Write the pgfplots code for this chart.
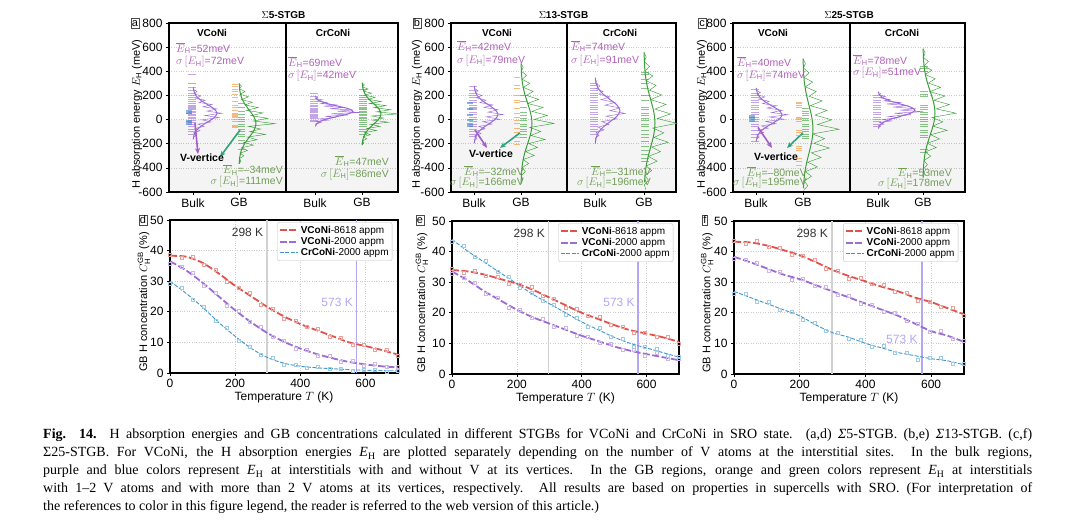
\documentclass[border=0pt]{standalone}
\usepackage{pgfplots}
\pgfplotsset{compat=1.18}
\usepackage{pgfplotstable}
\usepackage{fontspec}
\setmainfont{Liberation Sans}
\newfontfamily\capfont{Liberation Serif}
\usetikzlibrary{arrows.meta}

\definecolor{cpurple}{HTML}{9B6AD6}
\definecolor{cblue}{HTML}{3D85C6}
\definecolor{corange}{HTML}{F28C28}
\definecolor{cgreen}{HTML}{3A9E3A}
\definecolor{annpurple}{HTML}{B062B8}
\definecolor{anngreen}{HTML}{6F9E55}
\definecolor{arrpurple}{HTML}{A35CC9}
\definecolor{arrgreen}{HTML}{2FA37A}
\definecolor{lred}{HTML}{E0524D}
\definecolor{lpurple}{HTML}{9D6BD4}
\definecolor{lblue}{HTML}{3D96CC}
\definecolor{c573}{HTML}{B3A6F2}

\pgfplotsset{/pgf/number format/assume math mode=true}

% Gaussian shape (k = offset in sigma, f = relative height)
\pgfplotstableread{
k f
-3 0.011
-2.5 0.044
-2 0.135
-1.5 0.325
-1 0.607
-0.5 0.882
0 1
0.5 0.882
1 0.607
1.5 0.325
2 0.135
2.5 0.044
3 0.011
}\gauss
\pgfplotstableread{
k g
-2.75 0.02
-2.5 0.15
-2.25 0.03
-2.0 0.35
-1.75 0.1
-1.5 0.55
-1.25 0.25
-1.0 0.9
-0.75 0.45
-0.5 1.3
-0.25 0.6
0 1.45
0.25 0.7
0.5 1.2
0.75 0.5
1.0 0.95
1.25 0.3
1.5 0.6
1.75 0.12
2.0 0.4
2.25 0.05
2.5 0.2
2.75 0.01
}\jagA
\pgfplotstableread{
k g
-2.75 0.05
-2.5 0.02
-2.25 0.2
-2.0 0.05
-1.75 0.45
-1.5 0.15
-1.25 0.7
-1.0 0.35
-0.75 1.1
-0.5 0.55
-0.25 1.5
0 0.75
0.25 1.25
0.5 0.5
0.75 1.0
1.0 0.3
1.25 0.75
1.5 0.2
1.75 0.4
2.0 0.06
2.25 0.25
2.5 0.02
2.75 0.1
}\jagB
\pgfplotstableread{
k g
-3.0 0.0
-2.8 0.08
-2.6 0.02
-2.4 0.2
-2.2 0.05
-2.0 0.35
-1.8 0.1
-1.6 0.6
-1.4 0.2
-1.2 0.75
-1.0 0.35
-0.8 1.1
-0.6 0.45
-0.4 0.9
-0.2 0.4
0.0 1.5
0.2 0.6
0.4 1.2
0.6 0.5
0.8 1.0
1.0 0.3
1.2 0.8
1.4 0.25
1.6 0.55
1.8 0.1
2.0 0.4
2.2 0.05
2.4 0.25
2.6 0.02
2.8 0.1
3.0 0.0
}\jagC

% temperature curves: T, VCoNi-8618 (r), VCoNi-2000 (p), CrCoNi-2000 (b)
\pgfplotstableread{
T r p b
0 38.3 36.5 30
50 38 33.5 26
100 36 29.5 21.5
150 32.5 25 16.5
200 28.5 20.5 12
250 25 16.5 8
300 21.5 13 5
350 18.5 10.2 3.2
400 16 8 2.2
450 14 6.2 1.7
500 12 4.8 1.4
550 10 3.6 1.1
600 8.8 2.8 0.9
650 7.5 2.2 0.8
700 6 1.8 0.7
}\curvD
\pgfplotstableread{
T r p b
0 38.8 35.7 29.1
35 37.5 34.6 27.8
70 38.1 32.7 24.0
105 35.3 28.5 21.8
140 33.6 26.2 17.1
175 29.7 21.9 14.8
210 28.0 20.3 10.5
245 26.1 16.7 8.7
280 22.4 15.2 5.9
315 20.9 11.8 5.1
350 17.6 10.7 2.8
385 17.2 8.0 2.8
420 15.0 7.6 1.7
455 14.6 5.8 2.2
490 12.0 5.7 1.3
525 11.5 3.7 1.5
560 9.1 4.0 0.7
595 9.2 2.4 1.0
630 7.7 3.0 1.2
665 7.7 1.9 0.5
700 5.5 2.1 0.85
}\scatD
\pgfplotstableread{
T r p b
0 34 33.5 44
50 33.5 30.5 40
100 32.5 27 36.5
150 31 24 33
200 29.5 21 29.5
250 27.5 18.5 26
300 25 16.5 23
350 22.5 14.5 20
400 20 12.5 17
450 18 10.8 14.5
500 16 9 12
550 14.3 7.6 10
600 13.2 6.5 8.5
650 12 5.5 7
700 10.5 4.5 5.5
}\curvE
\pgfplotstableread{
T r p b
0 34.5 32.7 43.1
35 33.0 31.6 41.8
70 33.9 29.8 38.4
105 32.1 26.2 37.0
140 31.7 24.9 33.4
175 29.5 21.6 31.8
210 29.3 21.1 28.1
245 28.4 18.5 26.6
280 25.5 18.1 23.8
315 24.6 15.5 22.6
350 21.6 15.0 19.5
385 21.4 12.4 18.4
420 19.0 12.1 15.4
455 18.6 10.3 15.2
490 16.0 10.0 12.2
525 15.6 7.8 11.4
560 13.4 7.9 8.8
595 13.6 6.0 8.9
630 12.2 6.8 8.3
665 12.2 4.9 6.0
700 10.0 4.9 5.8
}\scatE
\pgfplotstableread{
T r p b
0 43.2 38.3 27
50 43 36.5 25
100 42 34.5 23
150 40.5 32.5 21
200 38.8 31 19
250 36.5 29 16
300 34 27 13.5
350 32 25 12
400 30.3 23 10
450 28.5 21 8.5
500 27 19 7
550 25 16.5 6
600 23.5 14 5
650 21.5 12.5 4.3
700 19.5 10.5 3
}\curvF
\pgfplotstableread{
T r p b
0 43.7 37.5 26.1
35 42.5 37.2 26.2
70 43.5 36.4 23.6
105 41.6 33.8 23.6
140 41.3 33.4 21.0
175 38.9 30.9 20.5
210 38.5 31.2 17.7
245 37.4 29.0 16.6
280 34.5 28.6 14.2
315 33.7 26.0 13.6
350 31.1 25.5 11.5
385 31.4 22.9 11.1
420 29.4 22.5 8.8
455 29.2 20.5 9.3
490 26.9 20.0 7.0
525 26.5 17.3 6.9
560 24.0 16.5 4.8
595 23.5 13.7 5.2
630 22.0 14.0 5.4
665 21.5 11.6 3.4
700 19.0 10.9 3.3
}\scatF

\newcommand{\gline}[5]{\addplot[color=#5, line width=1pt, smooth, restrict y to domain=-600:800, forget plot] table[x expr={#1+#2*\thisrow{f}}, y expr={#3+#4*\thisrow{k}}]{\gauss};}
\newcommand{\jline}[6]{\addplot[color=#5, line width=0.45pt, restrict y to domain=-600:800, forget plot] table[x expr={#1+#2*\thisrow{g}}, y expr={#3+#4*\thisrow{k}}]{#6};}
\newcommand{\dashes}[4]{\addplot[only marks, mark=-, mark size=#2, color=#3, mark options={line width=1pt, opacity=0.6}, forget plot] table[header=false, row sep=\\, x expr={#1}, y index=0]{#4};}
\newcommand{\ann}[4]{\node[anchor=#1, text=#2, font=\fontsize{10.5}{12}\selectfont, inner sep=0pt] at (axis cs:#3) {#4};}
\newcommand{\EH}{$\overline{E}_{\mathrm{H}}$}
\newcommand{\sEH}{$\sigma\,[E_{\mathrm{H}}]$}

\newcommand{\botplots}[2]{%
 \addplot[only marks, mark=square, mark size=1.5pt, mark options={line width=0.5pt}, color=lred!55, forget plot] table[x=T,y=r]{#2};
 \addplot[only marks, mark=square, mark size=1.5pt, mark options={line width=0.5pt}, color=lpurple!50, forget plot] table[x=T,y=p]{#2};
 \addplot[only marks, mark=square, mark size=1.5pt, mark options={line width=0.5pt}, color=lblue!50, forget plot] table[x=T,y=b]{#2};
 \draw[gray!35, line width=1.6pt] (axis cs:298,0) -- (axis cs:298,50);
 \draw[c573, line width=1.6pt] (axis cs:573,0) -- (axis cs:573,50);
 \addplot[lred, line width=1.8pt, dash pattern=on 7pt off 2.5pt, smooth] table[x=T,y=r]{#1};
 \addlegendentry{\textbf{VCoNi}-8618 appm}
 \addplot[lpurple, line width=1.8pt, dash pattern=on 7pt off 2.5pt, smooth] table[x=T,y=p]{#1};
 \addlegendentry{\textbf{VCoNi}-2000 appm}
 \addplot[lblue, line width=0.9pt, dash pattern=on 4pt off 1.5pt, smooth] table[x=T,y=b]{#1};
 \addlegendentry{\textbf{CrCoNi}-2000 appm}
 \node[font=\fontsize{12}{12}\selectfont, text=black!80] at (axis cs:238,46) {298 K};
}

\pgfplotsset{
 common/.style={
  scale only axis, clip=false,
  axis line style={line width=1.1pt},
  tick align=outside, tick pos=left, major tick length=3pt,
  every tick/.style={black, line width=0.6pt},
  grid style={dotted, gray!40, line width=0.6pt},
  ticklabel style={font=\fontsize{12}{12}\selectfont},
  label style={font=\fontsize{12}{12}\selectfont},
  ylabel style={font=\fontsize{11}{11}\selectfont},
 },
 topax/.style={common,
  height=169pt, xmin=0, ymin=-600, ymax=800,
  ytick={-600,-400,...,800}, ymajorgrids,
  ylabel={H absorption energy $E_{\mathrm{H}}$ (meV)},
  title style={font=\fontsize{10}{10}\selectfont, yshift=-5pt},
 },
 botax/.style={common,
  height=153pt, xmin=0, xmax=700, ymin=0, ymax=50,
  xtick={0,200,400,600}, ytick={0,10,...,50}, grid=major,
  xlabel={Temperature $T$ (K)},
  xlabel style={yshift=3pt},
  ylabel={GB H concentration $C_{\mathrm{H}}^{\mathrm{GB}}$ (\%)},
  legend cell align=left,
  legend style={at={(rel axis cs:0.975,0.985)}, anchor=north east, draw=gray!50, rounded corners=2pt,
    font=\fontsize{10}{10}\selectfont, inner sep=1.5pt, row sep=-1.5pt},
  legend image code/.code={\draw[#1] (0pt,0pt) -- (18pt,0pt);},
 },
}

\begin{document}
\begin{tikzpicture}[x=1pt,y=1pt]
\path[use as bounding box] (0,0) rectangle (1080,528);

% ---------------- panel a ----------------
\begin{axis}[topax, at={(169pt,336pt)}, anchor=south west, width=229pt, xmax=229,
  ylabel style={at={(axis description cs:-0.14,0.46)}, anchor=center},
  xtick={24,70,146,193}, xticklabels={Bulk,GB,Bulk,GB}, title={$\Sigma$\textbf{5-STGB}}]
\fill[black, opacity=0.045] (axis cs:0,-600) rectangle (axis cs:229,0);
\draw[line width=1.1pt] (axis cs:117,-600) -- (axis cs:117,800);
\dashes{23}{3.8}{cpurple}{375\\300\\265\\240\\215\\200\\180\\165\\150\\135\\120\\110\\100\\90\\80\\70\\60\\45\\30\\20\\5\\-10\\-25\\-40\\-60\\-80\\-100\\-120\\}
\dashes{20}{3}{cblue}{75\\68\\61\\54\\47\\-5\\-12\\-19\\-26\\-33\\-40\\}
\jline{24}{20}{52}{72}{cpurple}{\jagA}
\gline{24}{24}{52}{72}{cpurple}
\dashes{66}{3}{corange}{290\\270\\250\\230\\210\\180\\150\\120\\100\\75\\50\\42\\35\\28\\20\\0\\-20\\-50\\-57\\-64\\}
\dashes{72}{3.5}{cgreen}{130\\100\\70\\40\\20\\0\\-20\\-40\\-60\\-80\\-100\\-120\\-140\\-170\\-200\\-250\\}
\jline{70}{24}{-34}{111}{cgreen}{\jagC}
\gline{70}{17}{-34}{111}{cgreen}
\dashes{145}{3.8}{cpurple}{215\\190\\170\\150\\135\\120\\105\\95\\85\\75\\65\\55\\45\\35\\25\\15\\5\\-10\\-20\\}
\jline{146}{30}{69}{42}{cpurple}{\jagB}
\gline{146}{38}{69}{42}{cpurple}
\dashes{194}{3.8}{cgreen}{250\\200\\185\\165\\150\\130\\115\\100\\90\\80\\65\\55\\45\\30\\20\\5\\-10\\-25\\-40\\-60\\-80\\-100\\-120\\}
\jline{193}{24}{47}{86}{cgreen}{\jagC}
\gline{193}{19}{47}{86}{cgreen}
\draw[-{Stealth[length=6pt,width=5pt]}, arrpurple, line width=1.6pt] (axis cs:26,-30) -- (axis cs:29,-286);
\draw[-{Stealth[length=6pt,width=5pt]}, arrgreen, line width=1.6pt] (axis cs:71,-87) -- (axis cs:51,-310);
\node[font=\bfseries\fontsize{10.5}{12}\selectfont] at (axis cs:33,-319) {V-vertice};
\node[font=\bfseries\fontsize{10}{12}\selectfont] at (axis cs:43,715) {VCoNi};
\node[font=\bfseries\fontsize{10}{12}\selectfont] at (axis cs:164,715) {CrCoNi};
\ann{west}{annpurple}{7,590}{\EH=52meV}
\ann{west}{annpurple}{7,475}{\sEH=72meV}
\ann{east}{anngreen}{114,-418}{\EH=–34meV}
\ann{east}{anngreen}{114,-518}{\sEH=111meV}
\ann{west}{annpurple}{119,475}{\EH=69meV}
\ann{west}{annpurple}{119,360}{\sEH=42meV}
\ann{east}{anngreen}{220,-345}{\EH=47meV}
\ann{east}{anngreen}{220,-455}{\sEH=86meV}
\end{axis}

% ---------------- panel b ----------------
\begin{axis}[topax, at={(451pt,336pt)}, anchor=south west, width=225pt, xmax=225,
  ylabel style={at={(axis description cs:-0.151,0.46)}, anchor=center},
  xtick={23,70,144,193}, xticklabels={Bulk,GB,Bulk,GB}, title={$\Sigma$\textbf{13-STGB}}]
\fill[black, opacity=0.045] (axis cs:0,-600) rectangle (axis cs:225,0);
\draw[line width=1.1pt] (axis cs:116,-600) -- (axis cs:116,800);
\dashes{22}{3.8}{cpurple}{270\\240\\220\\200\\180\\160\\140\\120\\100\\90\\80\\60\\40\\20\\0\\-20\\-40\\-60\\-80\\-100\\-120\\-140\\}
\dashes{19}{3}{cblue}{140\\135\\90\\85\\40\\35\\0\\-5\\-30\\-40\\-50\\-57\\}
\jline{23}{20}{42}{79}{cpurple}{\jagA}
\gline{23}{24}{42}{79}{cpurple}
\dashes{66}{3}{corange}{350\\280\\260\\200\\160\\140\\90\\50\\20\\-10\\-30\\-70\\-110\\-150\\-180\\-210\\}
\dashes{72}{3.5}{cgreen}{200\\150\\100\\60\\30\\10\\-10\\-40\\-60\\-80\\-100\\-120\\-150\\}
\jline{70}{22}{-32}{166}{cgreen}{\jagC}
\gline{70}{11}{-32}{166}{cgreen}
\dashes{143}{3.8}{cpurple}{300\\280\\260\\240\\220\\200\\180\\160\\140\\120\\100\\80\\60\\40\\20\\0\\-20\\-40\\-60\\-80\\-100\\-120\\}
\jline{144}{20}{74}{91}{cpurple}{\jagB}
\gline{144}{25}{74}{91}{cpurple}
\dashes{194}{3.8}{cgreen}{390\\370\\330\\300\\260\\200\\160\\100\\80\\50\\30\\10\\-10\\-40\\-60\\-90\\-120\\-150\\-180\\-220\\-260\\-290\\-320\\-350\\}
\jline{193}{22}{-31}{196}{cgreen}{\jagC}
\gline{193}{11}{-31}{196}{cgreen}
\draw[-{Stealth[length=6pt,width=5pt]}, arrpurple, line width=1.6pt] (axis cs:24,-87) -- (axis cs:36,-235);
\draw[-{Stealth[length=6pt,width=5pt]}, arrgreen, line width=1.6pt] (axis cs:69,-110) -- (axis cs:49,-235);
\node[font=\bfseries\fontsize{10.5}{12}\selectfont] at (axis cs:40,-287) {V-vertice};
\node[font=\bfseries\fontsize{10}{12}\selectfont] at (axis cs:46,715) {VCoNi};
\node[font=\bfseries\fontsize{10}{12}\selectfont] at (axis cs:169,715) {CrCoNi};
\ann{west}{annpurple}{6,607}{\EH=42meV}
\ann{west}{annpurple}{6,491}{\sEH=79meV}
\ann{east}{anngreen}{73,-427}{\EH=–32meV}
\ann{east}{anngreen}{73,-527}{\sEH=166meV}
\ann{west}{annpurple}{120,607}{\EH=74meV}
\ann{west}{annpurple}{120,491}{\sEH=91meV}
\ann{east}{anngreen}{200,-427}{\EH=–31meV}
\ann{east}{anngreen}{200,-527}{\sEH=196meV}
\end{axis}

% ---------------- panel c ----------------
\begin{axis}[topax, at={(733pt,336pt)}, anchor=south west, width=232pt, xmax=232,
  ylabel style={at={(axis description cs:-0.134,0.46)}, anchor=center},
  xtick={23,70,145,190}, xticklabels={Bulk,GB,Bulk,GB}, title={$\Sigma$\textbf{25-STGB}}]
\fill[black, opacity=0.045] (axis cs:0,-600) rectangle (axis cs:232,0);
\draw[line width=1.1pt] (axis cs:117,-600) -- (axis cs:117,800);
\dashes{22}{3.8}{cpurple}{250\\220\\200\\180\\160\\140\\120\\100\\80\\60\\40\\20\\0\\-20\\-40\\-60\\-90\\-120\\-150\\-180\\}
\dashes{19}{3}{cblue}{35\\28\\21\\14\\7\\0\\-7\\-14\\}
\jline{23}{22}{40}{74}{cpurple}{\jagA}
\gline{23}{26}{40}{74}{cpurple}
\dashes{66}{3}{corange}{140\\130\\120\\100\\20\\10\\0\\-20\\-90\\-110\\-130\\-220\\-240\\-260\\-320\\-350\\-380\\}
\dashes{72}{3.5}{cgreen}{90\\70\\50\\30\\10\\-10\\-40\\-60\\-80\\-100\\-120\\-140\\-160\\}
\jline{70}{24}{-80}{195}{cgreen}{\jagC}
\gline{70}{10}{-80}{195}{cgreen}
\dashes{144}{3.8}{cpurple}{200\\180\\160\\140\\120\\100\\80\\60\\40\\20\\0\\-20\\-40\\-60\\}
\jline{145}{30}{78}{51}{cpurple}{\jagB}
\gline{145}{37}{78}{51}{cpurple}
\dashes{191}{3.8}{cgreen}{440\\420\\400\\230\\210\\190\\120\\100\\80\\60\\40\\20\\0\\-20\\-40\\-60\\-90\\-110\\-130\\-150\\-250\\-270\\}
\jline{190}{22}{53}{178}{cgreen}{\jagC}
\gline{190}{12}{53}{178}{cgreen}
\draw[-{Stealth[length=6pt,width=5pt]}, arrpurple, line width=1.6pt] (axis cs:25,-65) -- (axis cs:39,-235);
\draw[-{Stealth[length=6pt,width=5pt]}, arrgreen, line width=1.6pt] (axis cs:70,-110) -- (axis cs:54,-235);
\node[font=\bfseries\fontsize{10.5}{12}\selectfont] at (axis cs:43,-312) {V-vertice};
\node[font=\bfseries\fontsize{10}{12}\selectfont] at (axis cs:40,715) {VCoNi};
\node[font=\bfseries\fontsize{10}{12}\selectfont] at (axis cs:169,715) {CrCoNi};
\ann{west}{annpurple}{4,475}{\EH=40meV}
\ann{west}{annpurple}{4,367}{\sEH=74meV}
\ann{east}{anngreen}{74,-435}{\EH=–80meV}
\ann{east}{anngreen}{74,-527}{\sEH=195meV}
\ann{west}{annpurple}{120,491}{\EH=78meV}
\ann{west}{annpurple}{120,384}{\sEH=51meV}
\ann{east}{anngreen}{219,-443}{\EH=53meV}
\ann{east}{anngreen}{219,-535}{\sEH=178meV}
\end{axis}

% ---------------- panel d ----------------
\begin{axis}[botax, at={(170pt,155pt)}, anchor=south west, width=228pt,
  ylabel style={at={(axis description cs:-0.114,0.465)}, anchor=center}]
\botplots{\curvD}{\scatD}
\node[font=\fontsize{12}{12}\selectfont, text=c573] at (axis cs:513,23.2) {573 K};
\end{axis}
% ---------------- panel e ----------------
\begin{axis}[botax, at={(452pt,154pt)}, anchor=south west, width=227pt,
  ylabel style={at={(axis description cs:-0.132,0.465)}, anchor=center}]
\botplots{\curvE}{\scatE}
\node[font=\fontsize{12}{12}\selectfont, text=c573] at (axis cs:515,23.5) {573 K};
\end{axis}
% ---------------- panel f ----------------
\begin{axis}[botax, at={(734pt,154pt)}, anchor=south west, width=230pt,
  ylabel style={at={(axis description cs:-0.117,0.465)}, anchor=center}]
\botplots{\curvF}{\scatF}
\node[font=\fontsize{12}{12}\selectfont, text=c573] at (axis cs:511,11.4) {573 K};
\end{axis}

% panel letters
\foreach \l/\px/\py in {a/135/505, b/417/505, c/702/505, d/143/308, e/420/308, f/705/308}
  \node[draw=black!70, line width=0.5pt, inner sep=1pt, font=\fontsize{11}{11}\selectfont] at (\px,\py) {\l\vphantom{b}};

% caption
\node[anchor=base west, text width=989pt, align=justify, inner sep=0pt,
      font=\capfont\fontsize{14}{18}\selectfont] at (43,89) {\hyphenpenalty=10000
{\bfseries Fig. 14.} H absorption energies and GB concentrations calculated in different STGBs for VCoNi and CrCoNi in SRO state. (a,d) \textit{Σ}5-STGB. (b,e) \textit{Σ}13-STGB. (c,f)\linebreak
Σ25-STGB. For VCoNi, the H absorption energies \textit{E}\textsubscript{H} are plotted separately depending on the number of V atoms at the interstitial sites. In the bulk regions,\linebreak
purple and blue colors represent \textit{E}\textsubscript{H} at interstitials with and without V at its vertices. In the GB regions, orange and green colors represent \textit{E}\textsubscript{H} at interstitials\linebreak
with 1–2 V atoms and with more than 2 V atoms at its vertices, respectively. All results are based on properties in supercells with SRO. (For interpretation of\linebreak
the references to color in this figure legend, the reader is referred to the web version of this article.)};
\end{tikzpicture}
\end{document}
